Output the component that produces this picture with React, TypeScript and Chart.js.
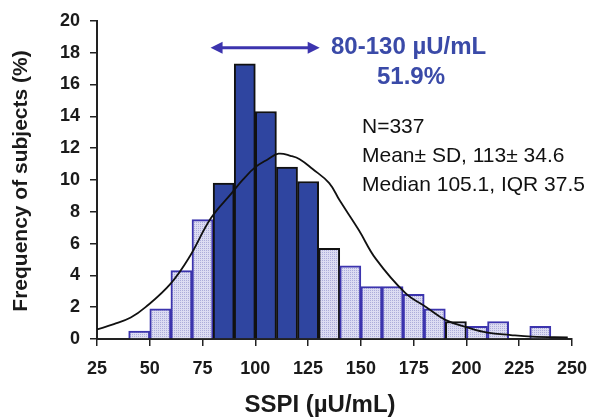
import React, { useEffect, useRef } from "react";
import { Chart, registerables } from "chart.js";

Chart.register(...registerables);

// ---- data ----
const binStarts = [40, 50, 60, 70, 80, 90, 100, 110, 120, 130, 140, 150, 160, 170, 180, 190, 200, 210, 220, 230];
const frequencies = [0.5, 1.9, 4.3, 7.5, 9.8, 17.3, 14.3, 10.8, 9.9, 5.7, 4.6, 3.3, 3.3, 2.8, 1.9, 1.1, 0.8, 1.1, 0, 0.8];
const binWidth = 10;
const highlightFrom = 80;
const highlightTo = 130;
const blackOutlinedBins = [130, 190];

const curveX = [25, 33, 41, 48, 60, 69, 79, 89, 94, 100, 106, 111, 117, 121, 127, 135, 140, 149, 157, 171, 181, 190, 200, 210, 221, 231, 248];
const curveY = [0.6, 0.93, 1.35, 2.0, 3.5, 5.2, 7.6, 9.2, 10.0, 10.8, 11.3, 11.65, 11.5, 11.3, 10.7, 9.8, 8.7, 6.85, 5.05, 2.9, 2.0, 1.2, 0.75, 0.4, 0.25, 0.15, 0.1];

const xMin = 25;
const xMax = 250;
const xStep = 25;
const yMin = 0;
const yMax = 20;
const yStep = 2;

const xTitle = "SSPI (µU/mL)";
const yTitle = "Frequency of subjects (%)";
const rangeLabel = "80-130 µU/mL";
const rangePercent = "51.9%";
const statsLines = ["N=337", "Mean± SD, 113± 34.6", "Median 105.1, IQR 37.5"];

const FONT = "'Liberation Sans', Arial, Helvetica, sans-serif";
const DARK = "#2f45a0";
const PURPLE = "#3c34ae";
const ANNOT_BLUE = "#3a4aa8";

function makePattern(): CanvasPattern | string {
  const c = document.createElement("canvas");
  c.width = 4;
  c.height = 4;
  const g = c.getContext("2d");
  if (!g) return "#d4d4ec";
  g.fillStyle = "rgb(220,220,242)";
  g.fillRect(0, 0, 4, 4);
  g.fillStyle = "rgb(172,172,218)";
  g.fillRect(0, 0, 1, 1);
  g.fillRect(2, 0, 1, 1);
  g.fillRect(0, 2, 1, 1);
  g.fillRect(2, 2, 1, 1);
  const p = g.createPattern(c, "repeat");
  return p || "#d4d4ec";
}

const annotationPlugin = {
  id: "annotations",
  afterDraw(chart: any) {
    const ctx = chart.ctx as CanvasRenderingContext2D;
    const xs = chart.scales.x;
    const ys = chart.scales.y;
    ctx.save();

    // arrow over highlighted range
    const ax1 = xs.getPixelForValue(highlightFrom - 1.2);
    const ax2 = xs.getPixelForValue(highlightTo + 0.5);
    const ay = ys.getPixelForValue(18.3);
    ctx.strokeStyle = PURPLE;
    ctx.fillStyle = PURPLE;
    ctx.lineWidth = 3;
    ctx.beginPath();
    ctx.moveTo(ax1 + 10, ay);
    ctx.lineTo(ax2 - 10, ay);
    ctx.stroke();
    ctx.beginPath();
    ctx.moveTo(ax1, ay);
    ctx.lineTo(ax1 + 12, ay - 6);
    ctx.lineTo(ax1 + 12, ay + 6);
    ctx.closePath();
    ctx.fill();
    ctx.beginPath();
    ctx.moveTo(ax2, ay);
    ctx.lineTo(ax2 - 12, ay - 6);
    ctx.lineTo(ax2 - 12, ay + 6);
    ctx.closePath();
    ctx.fill();

    // range texts
    ctx.fillStyle = ANNOT_BLUE;
    ctx.font = `bold 24px ${FONT}`;
    ctx.textBaseline = "middle";
    ctx.textAlign = "left";
    ctx.fillText(rangeLabel, 331, 47);
    ctx.textAlign = "center";
    ctx.fillText(rangePercent, 411, 77);

    // stats
    ctx.fillStyle = "#111";
    ctx.font = `21px ${FONT}`;
    ctx.textAlign = "left";
    statsLines.forEach((t, i) => ctx.fillText(t, 362, 127 + i * 29));

    // axis titles
    ctx.font = `bold 24px ${FONT}`;
    ctx.textAlign = "center";
    ctx.fillStyle = "#1a1a1a";
    ctx.fillText(xTitle, 320, 405);

    ctx.translate(21, 181);
    ctx.rotate(-Math.PI / 2);
    ctx.font = `bold 21px ${FONT}`;
    ctx.fillText(yTitle, 0, 0);
    ctx.restore();
  },
};

export default function App() {
  const ref = useRef<HTMLCanvasElement>(null);

  useEffect(() => {
    if (!ref.current) return;
    const pattern = makePattern();
    const inRange = (s: number) => s >= highlightFrom && s < highlightTo;
    const barData = binStarts.map((s, i) => ({ x: s + binWidth / 2, y: frequencies[i] }));
    const bg = binStarts.map((s) => (inRange(s) ? DARK : pattern));
    const bc = binStarts.map((s) => (inRange(s) || blackOutlinedBins.includes(s) ? "#111" : PURPLE));
    const curveData = curveX.map((x, i) => ({ x, y: curveY[i] }));

    const chart = new Chart(ref.current, {
      type: "bar",
      data: {
        datasets: [
          {
            type: "line",
            data: curveData,
            borderColor: "#111",
            borderWidth: 1.8,
            pointRadius: 0,
            tension: 0.4,
            fill: false,
            order: 0,
          } as any,
          {
            type: "bar",
            data: barData,
            backgroundColor: bg as any,
            borderColor: bc,
            borderWidth: 2,
            barPercentage: 1,
            categoryPercentage: 1,
            order: 1,
          } as any,
        ],
      },
      options: {
        animation: false,
        responsive: false,
        devicePixelRatio: 1,
        layout: { padding: { left: 0, top: 19, right: 25, bottom: 0 } },
        plugins: { legend: { display: false }, tooltip: { enabled: false } },
        scales: {
          x: {
            type: "linear",
            min: xMin,
            max: xMax,
            offset: false,
            afterFit: (s: any) => {
              s.height = 78;
            },
            ticks: {
              stepSize: xStep,
              color: "#1a1a1a",
              font: { family: FONT, size: 18, weight: "bold" },
              padding: 12,
              maxRotation: 0,
              autoSkip: false,
            },
            grid: {
              offset: false,
              drawOnChartArea: false,
              drawTicks: true,
              tickLength: 7,
              color: "#222",
              lineWidth: 1.5,
            },
            border: { display: true, color: "#222", width: 2 },
          },
          y: {
            type: "linear",
            min: yMin,
            max: yMax,
            afterFit: (s: any) => {
              s.width = 97;
            },
            ticks: {
              stepSize: yStep,
              color: "#1a1a1a",
              font: { family: FONT, size: 18, weight: "bold" },
              padding: 10,
            },
            grid: {
              drawOnChartArea: false,
              drawTicks: true,
              tickLength: 7,
              color: "#222",
              lineWidth: 1.5,
            },
            border: { display: true, color: "#222", width: 2 },
          },
        },
      } as any,
      plugins: [annotationPlugin],
    });
    return () => chart.destroy();
  }, []);

  return (
    <div style={{ position: "fixed", left: 0, top: 0, width: 599, height: 417, background: "#fff" }}>
      <canvas ref={ref} width={599} height={417} style={{ width: 599, height: 417, display: "block" }} />
    </div>
  );
}
